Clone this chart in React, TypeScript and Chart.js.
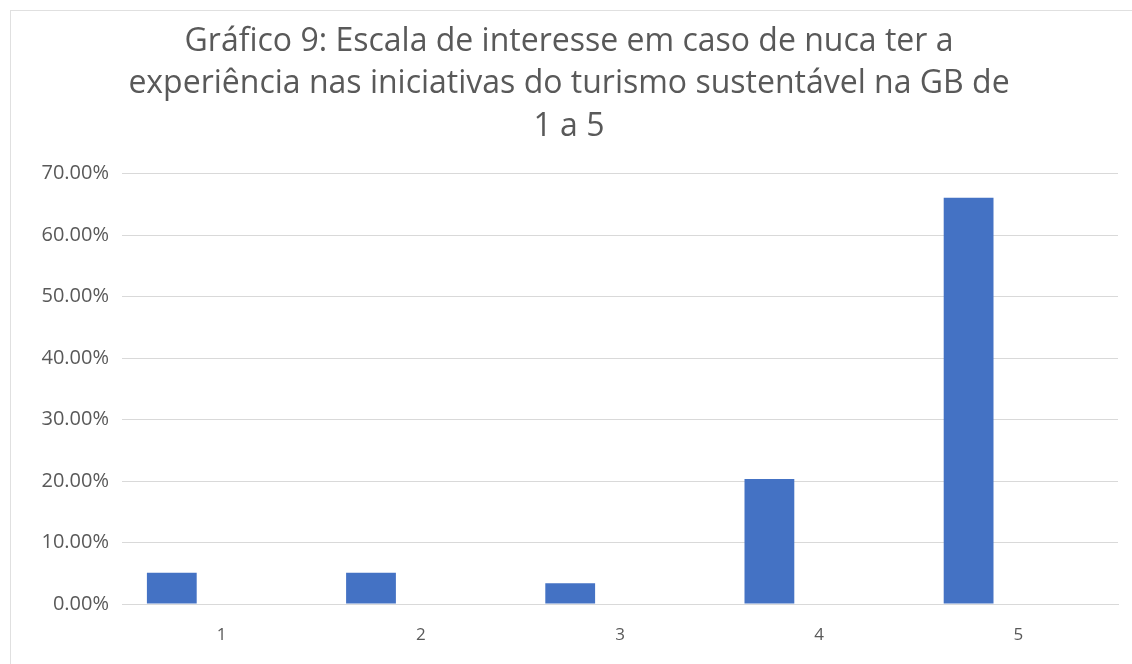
import React, { useEffect, useRef } from "react";
import { Chart, registerables } from "chart.js";

Chart.register(...registerables);

const titleLines = [
  "Gráfico 9: Escala de interesse em caso de nuca ter a",
  "experiência nas iniciativas do turismo sustentável na GB de",
  "1 a 5",
];
const categories = ["1", "2", "3", "4", "5"];
const seriesValues = [5.08, 5.08, 3.39, 20.34, 66.1];
const emptySeries = [null, null, null, null, null];
const yTicks = [0, 10, 20, 30, 40, 50, 60, 70];

export default function App() {
  const ref = useRef<HTMLCanvasElement | null>(null);
  useEffect(() => {
    const prevMargin = document.body.style.margin;
    document.body.style.margin = "0";
    const canvas = ref.current;
    if (!canvas) return;
    const chart = new Chart(canvas, {
      type: "bar",
      data: {
        labels: categories,
        datasets: [
          {
            label: "Série 1",
            data: seriesValues,
            backgroundColor: "#4472c4",
            borderWidth: 0,
            categoryPercentage: 1,
            barPercentage: 0.5,
          },
          {
            label: "Série 2",
            data: emptySeries as any,
            backgroundColor: "#ed7d31",
            borderWidth: 0,
            categoryPercentage: 1,
            barPercentage: 0.5,
          },
        ],
      },
      options: {
        animation: false,
        responsive: false,
        maintainAspectRatio: false,
        layout: { padding: { left: 20, right: 14, top: 0, bottom: 20 } },
        plugins: {
          legend: { display: false },
          tooltip: { enabled: false },
          title: {
            display: true,
            text: titleLines,
            color: "#595959",
            font: { family: "'Open Sans'", size: 32, weight: "normal" as any, lineHeight: 1.32 },
            padding: { top: 21, bottom: 26 },
          },
        },
        scales: {
          x: {
            grid: { display: false, drawTicks: false },
            border: { display: true, color: "#d9d9d9", width: 1 },
            ticks: {
              color: "#595959",
              font: { family: "'Open Sans'", size: 17 },
              padding: 21,
            },
            afterFit: (s: any) => {
              s.height = 40;
            },
          },
          y: {
            min: 0,
            max: 70,
            afterBuildTicks: (s: any) => {
              s.ticks = yTicks.map((v) => ({ value: v }));
            },
            grid: { color: "#d9d9d9", lineWidth: 1, drawTicks: false },
            border: { display: false },
            ticks: {
              color: "#595959",
              font: { family: "'Open Sans'", size: 20 },
              padding: 13,
              callback: (v: any) => Number(v).toFixed(2) + "%",
            },
            afterFit: (s: any) => {
              s.width = 102;
            },
          },
        },
      },
    });
    return () => {
      chart.destroy();
      document.body.style.margin = prevMargin;
    };
  }, []);
  return (
    <div style={{ position: "relative", width: 1132, height: 664, background: "#fff" }}>
      <div
        style={{
          position: "absolute",
          left: 10,
          top: 10,
          width: 1130,
          height: 660,
          borderLeft: "1px solid #e0e0e0",
          borderTop: "1px solid #e0e0e0",
          boxSizing: "border-box",
        }}
      />
      <canvas ref={ref} width={1132} height={664} style={{ position: "absolute", left: 0, top: 0 }} />
    </div>
  );
}
